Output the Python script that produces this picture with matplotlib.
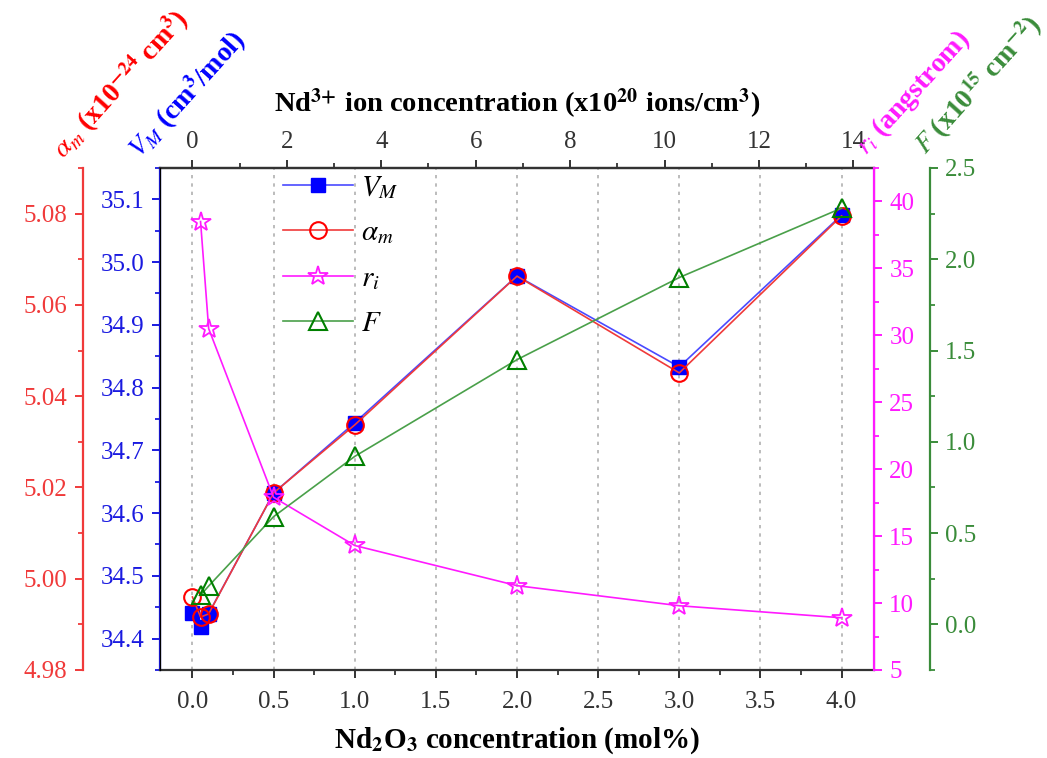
import matplotlib
matplotlib.use("Agg")
import matplotlib.pyplot as plt
from matplotlib.ticker import MultipleLocator, FormatStrFormatter

plt.rcParams["font.family"] = ["Liberation Serif", "DejaVu Serif"]
plt.rcParams["mathtext.fontset"] = "stix"

# Nd2O3 concentration (mol%)
x_mol = [0.0, 0.05, 0.1, 0.5, 1.0, 2.0, 3.0, 4.0]
vm = [34.441, 34.418, 34.440, 34.632, 34.744, 34.978, 34.833, 35.075]
alpha_m = [4.9960, 4.9916, 4.9923, 5.0188, 5.0337, 5.0663, 5.0451, 5.0795]

x_mol_nd = [0.05, 0.1, 0.5, 1.0, 2.0, 3.0, 4.0]
r_i = [38.5, 30.5, 17.9, 14.3, 11.3, 9.8, 8.9]
f_vals = [0.16, 0.21, 0.59, 0.92, 1.45, 1.90, 2.28]

# mol% -> x10^20 ions/cm^3
ion_factor = 3.4375

c_blue = "#1a1ae0"
c_red = "#f03a3a"
c_mag = "#ff1aff"
c_green = "#3a8c3a"

fig = plt.figure(figsize=(10.47, 7.58), dpi=100)
ax = fig.add_axes([0.1528, 0.1161, 0.682, 0.6623])
ax_r = ax.twinx()
ax_m = ax.twinx()
ax_g = ax.twinx()

tick_kw = dict(direction="out", labelsize=18, width=1.4, length=6, pad=5)
minor_kw = dict(direction="out", width=1.3, length=3.5)

# main axis: V_M (blue, left)
ax.plot(x_mol, vm, "-", color="#4a4aff", lw=1.2, marker="s", ms=10.5,
        mfc="blue", mec="blue", label="$V_M$", zorder=3)
ax.set_xlim(-0.2, 4.2)
ax.set_ylim(34.35, 35.15)
ax.xaxis.set_major_locator(MultipleLocator(0.5))
ax.xaxis.set_minor_locator(MultipleLocator(0.25))
ax.yaxis.set_major_locator(MultipleLocator(0.1))
ax.yaxis.set_minor_locator(MultipleLocator(0.05))
ax.xaxis.set_major_formatter(FormatStrFormatter("%.1f"))
ax.tick_params(axis="both", which="major", **tick_kw)
ax.tick_params(axis="both", which="minor", **minor_kw)
ax.tick_params(axis="x", which="major", pad=9)
ax.tick_params(axis="y", which="both", colors=c_blue)
ax.tick_params(axis="x", which="both", colors="#333333")
ax.xaxis.grid(True, linestyle=(0, (2, 3)), color="#b0b0b0", lw=1.2)
ax.set_axisbelow(True)
ax.spines["left"].set_color(c_blue)
ax.spines["left"].set_linewidth(1.6)
for s in ("top", "bottom"):
    ax.spines[s].set_color("#333333")
    ax.spines[s].set_linewidth(1.6)
ax.set_xlabel(r"Nd$_\mathbf{2}$O$_\mathbf{3}$ concentration (mol%)",
              fontsize=21, fontweight="bold", labelpad=9)

# top axis: Nd3+ ion concentration
top = ax.secondary_xaxis("top", functions=(lambda x: x * ion_factor,
                                           lambda x: x / ion_factor))
top.xaxis.set_major_locator(MultipleLocator(2))
top.xaxis.set_minor_locator(MultipleLocator(1))
top.tick_params(which="major", **tick_kw)
top.tick_params(which="minor", **minor_kw)
top.tick_params(which="both", colors="#333333")
top.spines["top"].set_color("#333333")
top.spines["top"].set_linewidth(1.6)
top.set_xlabel(r"Nd$^{\mathbf{3{+}}}$ ion concentration (x10$^\mathbf{20}$ ions/cm$^\mathbf{3}$)",
               fontsize=20.5, fontweight="bold", labelpad=13)

# alpha_m (red, offset left)
ax_r.plot(x_mol, alpha_m, "-", color=c_red, lw=1.2, marker="o", ms=12,
          mfc="none", mec="red", mew=1.5, label=r"$\alpha_m$")
ax_r.set_ylim(4.98, 5.09)
ax_r.yaxis.set_major_locator(MultipleLocator(0.02))
ax_r.yaxis.set_minor_locator(MultipleLocator(0.01))
ax_r.yaxis.set_major_formatter(FormatStrFormatter("%.2f"))
ax_r.yaxis.set_ticks_position("left")
ax_r.yaxis.set_label_position("left")
ax_r.spines["left"].set_position(("outward", 55.5))
ax_r.spines["left"].set_visible(True)
ax_r.spines["left"].set_color(c_red)
ax_r.spines["left"].set_linewidth(1.6)
ax_r.spines["right"].set_visible(False)
ax_r.tick_params(axis="y", which="major", **tick_kw)
ax_r.tick_params(axis="y", which="minor", **minor_kw)
ax_r.tick_params(axis="y", which="both", colors=c_red)

# r_i (magenta, right)
ax_m.plot(x_mol_nd, r_i, "-", color=c_mag, lw=1.2, marker="*", ms=15,
          mfc="none", mec=c_mag, mew=1.3, label="$r_i$")
ax_m.set_ylim(5, 42.5)
ax_m.yaxis.set_major_locator(MultipleLocator(5))
ax_m.yaxis.set_minor_locator(MultipleLocator(2.5))
ax_m.spines["right"].set_color(c_mag)
ax_m.spines["right"].set_linewidth(1.6)
ax_m.tick_params(axis="y", which="major", **tick_kw)
ax_m.tick_params(axis="y", which="minor", **minor_kw)
ax_m.tick_params(axis="y", which="both", colors=c_mag)

# F (green, offset right)
ax_g.plot(x_mol_nd, f_vals, "-", color="#4aa04a", lw=1.2, marker="^", ms=13,
          mfc="none", mec="green", mew=1.5, label="$F$")
ax_g.set_ylim(-0.25, 2.5)
ax_g.yaxis.set_major_locator(MultipleLocator(0.5))
ax_g.yaxis.set_minor_locator(MultipleLocator(0.25))
ax_g.spines["right"].set_position(("outward", 40.3))
ax_g.spines["right"].set_color(c_green)
ax_g.spines["right"].set_linewidth(1.6)
ax_g.tick_params(axis="y", which="major", **tick_kw)
ax_g.tick_params(axis="y", which="minor", **minor_kw)
ax_g.tick_params(axis="y", which="both", colors=c_green)

for a in (ax_r, ax_m, ax_g):
    a.spines["top"].set_visible(False)
    a.spines["bottom"].set_visible(False)

# legend
handles = []
labels = []
for a in (ax, ax_r, ax_m, ax_g):
    h, l = a.get_legend_handles_labels()
    handles += h
    labels += l
ax_g.legend(handles, labels, loc="upper left",
            bbox_to_anchor=(0.135, 1.04), frameon=False,
            fontsize=21, handlelength=2.4, labelspacing=0.65,
            handletextpad=0.3)

# rotated axis titles
W, H = 1047.0, 758.0
rot = 48
title_kw = dict(rotation=rot, rotation_mode="anchor", ha="left",
                va="baseline", fontsize=20, fontweight="bold")
fig.text(64 / W, 1 - 160 / H, r"$\alpha_m$ (x10$^\mathbf{-24}$ cm$^\mathbf{3}$)",
         color="red", **title_kw)
fig.text(140 / W, 1 - 160 / H, r"$V_M$ (cm$^\mathbf{3}$/mol)",
         color="blue", **title_kw)
fig.text(866 / W, 1 - 156 / H, r"$r_i$ (angstrom)",
         color=c_mag, **title_kw)
fig.text(926 / W, 1 - 156 / H, r"$F$ (x10$^\mathbf{15}$ cm$^\mathbf{-2}$)",
         color=c_green, **title_kw)

fig.savefig("out.png", dpi=100)
